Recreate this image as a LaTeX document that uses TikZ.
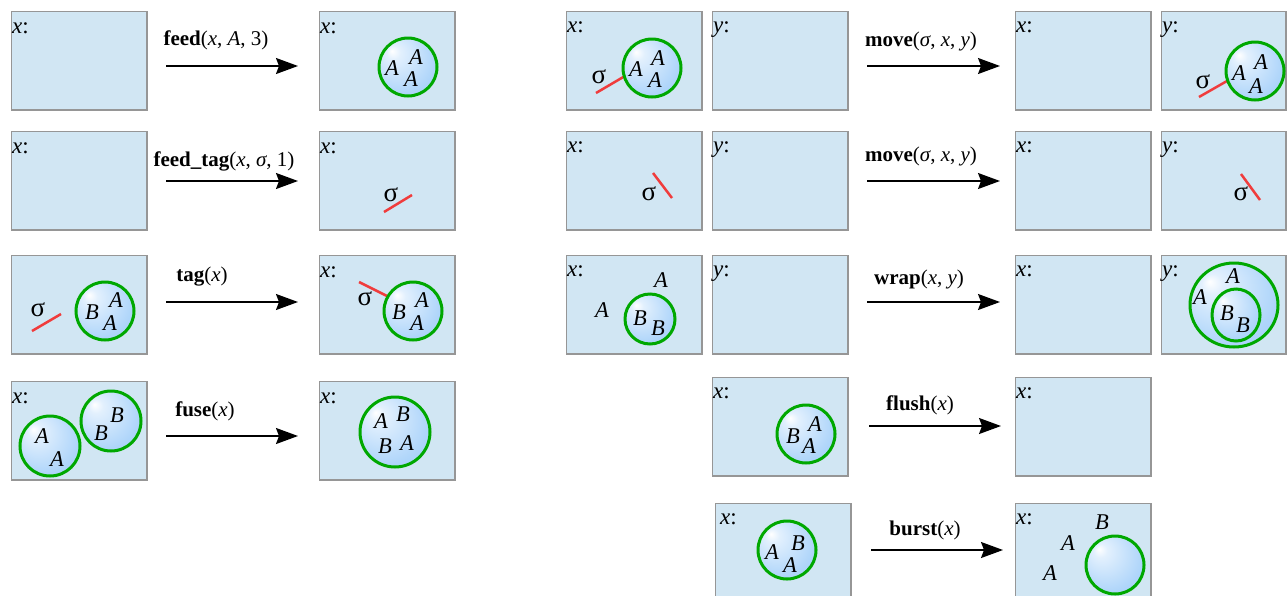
\documentclass[tikz,border=0pt]{standalone}
\usepackage{fontspec}
\setmainfont{Liberation Serif}
\usetikzlibrary{arrows.meta,shapes.geometric}

\definecolor{boxfill}{RGB}{209,230,243}
\definecolor{boxline}{RGB}{150,150,150}
\definecolor{rim}{RGB}{0,168,0}
\definecolor{tagred}{RGB}{240,60,60}
\definecolor{bubedge}{RGB}{140,195,248}

% membrane interior: light spot up-left, blue towards the rim
\pgfdeclareradialshading{bubbleshade}{\pgfpoint{-14bp}{14bp}}{%
  color(0bp)=(white); color(6bp)=(white!75!bubedge);
  color(30bp)=(bubedge!70!white); color(58bp)=(bubedge)}

\tikzset{
  cell/.style={rectangle, draw=boxline, fill=boxfill, line width=1.5pt,
    inner sep=0pt, minimum width=135.5pt, minimum height=98.5pt, anchor=north west},
  edgecell/.style={cell, minimum width=124.5pt},
  boxname/.style={anchor=base west, inner sep=0pt, font=\fontsize{23}{23}\selectfont},
  bubble/.style={circle, draw=rim, line width=3pt, shading=bubbleshade,
    inner sep=0pt, minimum size=58pt},
  ellbub/.style={ellipse, draw=rim, line width=3pt, shading=bubbleshade, inner sep=0pt},
  atom/.style={inner sep=0pt, font=\fontsize{22.5}{22.5}\selectfont\itshape},
  sig/.style={inner sep=0pt, font=\fontsize{27}{27}\selectfont},
  tagline/.style={draw=tagred, line width=2.5pt},
  op/.style={inner sep=0pt, font=\fontsize{21}{21}\selectfont},
  arr/.style={line width=1.5pt, -{Stealth[length=22pt,width=16pt,inset=3pt]}},
}

\begin{document}
\begin{tikzpicture}[x=1pt,y=-1pt]
\useasboundingbox (0,0) rectangle (1287,595);
\fill[white] (0,0) rectangle (1287,595);
\clip (0,0) rectangle (1287,595);

% ---------------- left column ----------------
% feed
\node[cell] (l1a) at (10.75,10.75) {};
\node[boxname] (l1an) at (12,33) {\textit{x}:};
\node[cell] (l1b) at (318.75,10.75) {};
\node[boxname] (l1bn) at (320,33) {\textit{x}:};
\node[bubble] (l1bc) at (408,67) {};
\node[atom] (l1b1) at (392,68) {A};
\node[atom] (l1b2) at (416,57) {A};
\node[atom] (l1b3) at (411,79) {A};
\coordinate (l1s) at (166,66); \coordinate (l1e) at (298,66);
\draw[arr] (l1s) -- (l1e);
\node[op] (l1op) at (216,40) {\textbf{feed}(\textit{x}, \textit{A}, 3)};

% feed_tag
\node[cell] (l2a) at (10.75,130.75) {};
\node[boxname] (l2an) at (12,153) {\textit{x}:};
\node[cell] (l2b) at (318.75,130.75) {};
\node[boxname] (l2bn) at (320,153) {\textit{x}:};
\coordinate (l2t1) at (384,212); \coordinate (l2t2) at (412,195);
\draw[tagline] (l2t1) -- (l2t2);
\node[sig] (l2bs) at (391,195) {σ};
\coordinate (l2s) at (166,181); \coordinate (l2e) at (298,181);
\draw[arr] (l2s) -- (l2e);
\node[op] (l2op) at (224,161) {\textbf{feed\_tag}(\textit{x}, \textit{σ}, 1)};

% tag
\node[cell] (l3a) at (10.75,254.75) {};
\coordinate (l3t1) at (32,331); \coordinate (l3t2) at (61,314);
\draw[tagline] (l3t1) -- (l3t2);
\node[sig] (l3as) at (38,310) {σ};
\node[bubble] (l3ac) at (105,311) {};
\node[atom] (l3a1) at (92,312) {B};
\node[atom] (l3a2) at (116,300) {A};
\node[atom] (l3a3) at (110,323) {A};
\node[cell] (l3b) at (318.75,254.75) {};
\node[boxname] (l3bn) at (320,277) {\textit{x}:};
\coordinate (l3t3) at (359,282); \coordinate (l3t4) at (387,296);
\draw[tagline] (l3t3) -- (l3t4);
\node[sig] (l3bs) at (365,299) {σ};
\node[bubble] (l3bc) at (413,311) {};
\node[atom] (l3b1) at (399,312) {B};
\node[atom] (l3b2) at (422,300) {A};
\node[atom] (l3b3) at (417,323) {A};
\coordinate (l3s) at (166,302); \coordinate (l3e) at (298,302);
\draw[arr] (l3s) -- (l3e);
\node[op] (l3op) at (202,277) {\textbf{tag}(\textit{x})};

% fuse
\node[cell] (l4a) at (10.75,380.75) {};
\node[boxname] (l4an) at (12,403) {\textit{x}:};
\node[bubble, minimum size=60pt] (l4ac1) at (50,446) {};
\node[atom] (l4a1) at (42,436) {A};
\node[atom] (l4a2) at (57,459) {A};
\node[bubble, minimum size=60pt] (l4ac2) at (111,421) {};
\node[atom] (l4a3) at (101,433) {B};
\node[atom] (l4a4) at (117,415) {B};
\node[cell] (l4b) at (318.75,380.75) {};
\node[boxname] (l4bn) at (320,403) {\textit{x}:};
\node[bubble, minimum size=70pt] (l4bc) at (395,432) {};
\node[atom] (l4b1) at (381,421) {A};
\node[atom] (l4b2) at (403,414) {B};
\node[atom] (l4b3) at (385,446) {B};
\node[atom] (l4b4) at (407,443) {A};
\coordinate (l4s) at (166,436); \coordinate (l4e) at (298,436);
\draw[arr] (l4s) -- (l4e);
\node[op] (l4op) at (205,411) {\textbf{fuse}(\textit{x})};

% ---------------- right column ----------------
% move (with membrane)
\node[cell] (r1a) at (565.75,10.75) {};
\node[boxname] (r1an) at (567,32) {\textit{x}:};
\node[cell] (r1b) at (711.75,10.75) {};
\node[boxname] (r1bn) at (713,32) {\textit{y}:};
\coordinate (r1t1) at (596,93); \coordinate (r1t2) at (625,76);
\draw[tagline] (r1t1) -- (r1t2);
\node[sig] (r1as) at (599,77) {σ};
\node[bubble] (r1ac) at (652,68) {};
\node[atom] (r1a1) at (636,69) {A};
\node[atom] (r1a2) at (658,58) {A};
\node[atom] (r1a3) at (655,80) {A};
\node[cell] (r1c) at (1014.75,10.75) {};
\node[boxname] (r1cn) at (1016,32) {\textit{x}:};
\node[edgecell] (r1d) at (1160.75,10.75) {};
\node[boxname] (r1dn) at (1162,32) {\textit{y}:};
\coordinate (r1t3) at (1199,97); \coordinate (r1t4) at (1227,81);
\draw[tagline] (r1t3) -- (r1t4);
\node[sig] (r1ds) at (1203,82) {σ};
\node[bubble] (r1dc) at (1255,71) {};
\node[atom] (r1d1) at (1239,73) {A};
\node[atom] (r1d2) at (1261,62) {A};
\node[atom] (r1d3) at (1256,86) {A};
\coordinate (r1s) at (867,66); \coordinate (r1e) at (1000,66);
\draw[arr] (r1s) -- (r1e);
\node[op] (r1op) at (921,41) {\textbf{move}(\textit{σ}, \textit{x}, \textit{y})};

% move (bare tag)
\node[cell] (r2a) at (565.75,130.75) {};
\node[boxname] (r2an) at (567,152) {\textit{x}:};
\node[cell] (r2b) at (711.75,130.75) {};
\node[boxname] (r2bn) at (713,152) {\textit{y}:};
\coordinate (r2t1) at (653,173); \coordinate (r2t2) at (672,198);
\draw[tagline] (r2t1) -- (r2t2);
\node[sig] (r2as) at (649,194) {σ};
\node[cell] (r2c) at (1014.75,130.75) {};
\node[boxname] (r2cn) at (1016,152) {\textit{x}:};
\node[edgecell] (r2d) at (1160.75,130.75) {};
\node[boxname] (r2dn) at (1162,152) {\textit{y}:};
\coordinate (r2t3) at (1241,174); \coordinate (r2t4) at (1260,200);
\draw[tagline] (r2t3) -- (r2t4);
\node[sig] (r2ds) at (1241,194) {σ};
\coordinate (r2s) at (867,181); \coordinate (r2e) at (1000,181);
\draw[arr] (r2s) -- (r2e);
\node[op] (r2op) at (921,156) {\textbf{move}(\textit{σ}, \textit{x}, \textit{y})};

% wrap
\node[cell] (r3a) at (565.75,254.75) {};
\node[boxname] (r3an) at (567,276) {\textit{x}:};
\node[cell] (r3b) at (711.75,254.75) {};
\node[boxname] (r3bn) at (713,276) {\textit{y}:};
\node[atom] (r3a1) at (602,310) {A};
\node[atom] (r3a2) at (661,280) {A};
\node[bubble, minimum size=50pt] (r3ac) at (650,319) {};
\node[atom] (r3a3) at (640,318) {B};
\node[atom] (r3a4) at (658,328) {B};
\node[cell] (r3c) at (1014.75,254.75) {};
\node[boxname] (r3cn) at (1016,276) {\textit{x}:};
\node[edgecell] (r3d) at (1160.75,254.75) {};
\node[boxname] (r3dn) at (1162,276) {\textit{y}:};
\node[ellbub, minimum width=88pt, minimum height=84pt] (r3do) at (1234,305) {};
\node[ellbub, minimum width=48pt, minimum height=52pt] (r3di) at (1236,315) {};
\node[atom] (r3d1) at (1233,276) {A};
\node[atom] (r3d2) at (1200,297) {A};
\node[atom] (r3d3) at (1227,313) {B};
\node[atom] (r3d4) at (1243,325) {B};
\coordinate (r3s) at (867,302); \coordinate (r3e) at (1000,302);
\draw[arr] (r3s) -- (r3e);
\node[op] (r3op) at (919,279) {\textbf{wrap}(\textit{x}, \textit{y})};

% flush
\node[cell] (r4a) at (711.75,376.75) {};
\node[boxname] (r4an) at (713,398) {\textit{x}:};
\node[bubble] (r4ac) at (806,434) {};
\node[atom] (r4a1) at (793,436) {B};
\node[atom] (r4a2) at (815,424) {A};
\node[atom] (r4a3) at (809,446) {A};
\node[cell] (r4b) at (1014.75,376.75) {};
\node[boxname] (r4bn) at (1016,398) {\textit{x}:};
\coordinate (r4s) at (869,426); \coordinate (r4e) at (1001,426);
\draw[arr] (r4s) -- (r4e);
\node[op] (r4op) at (920,405) {\textbf{flush}(\textit{x})};

% burst
\node[cell] (r5a) at (714.75,502.75) {};
\node[boxname] (r5an) at (720,524) {\textit{x}:};
\node[bubble] (r5ac) at (787,550) {};
\node[atom] (r5a1) at (772,552) {A};
\node[atom] (r5a2) at (798,543) {B};
\node[atom] (r5a3) at (790,565) {A};
\node[cell] (r5b) at (1014.75,502.75) {};
\node[boxname] (r5bn) at (1016,524) {\textit{x}:};
\node[atom] (r5b1) at (1102,522) {B};
\node[atom] (r5b2) at (1068,543) {A};
\node[atom] (r5b3) at (1050,573) {A};
\node[bubble] (r5bc) at (1115,565) {};
\coordinate (r5s) at (871,550); \coordinate (r5e) at (1003,550);
\draw[arr] (r5s) -- (r5e);
\node[op] (r5op) at (925,530) {\textbf{burst}(\textit{x})};
\end{tikzpicture}
\end{document}
